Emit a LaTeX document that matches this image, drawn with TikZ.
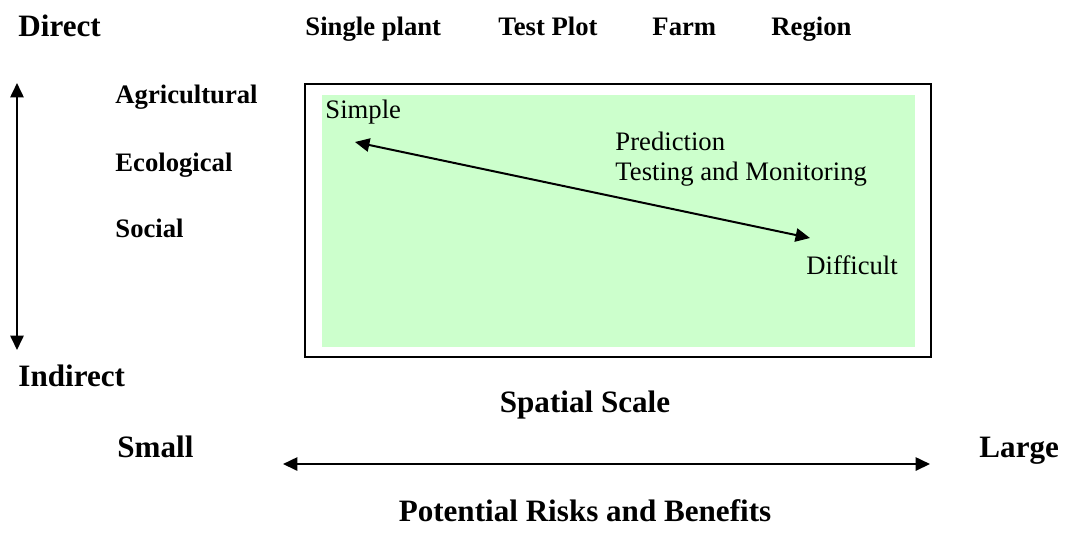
\documentclass[tikz,border=0pt]{standalone}
\usepackage{fontspec}
\setmainfont{Liberation Serif}
\usetikzlibrary{arrows.meta}

\begin{document}
\begin{tikzpicture}[x=0.45pt, y=-0.45pt,
    big/.style={anchor=base west, inner sep=0pt, font=\fontsize{14}{16}\selectfont\bfseries},
    lab/.style={anchor=base west, inner sep=0pt, font=\fontsize{12}{14}\selectfont\bfseries},
    txt/.style={anchor=base west, inner sep=0pt, font=\fontsize{12}{14}\selectfont},
    arr/.style={line width=0.9pt, {Triangle[length=6.5pt,width=6pt]}-{Triangle[length=6.5pt,width=6pt]}}]
            \useasboundingbox (0,0) rectangle (1066,537);

            % scale of the effect
            \node[big] (direct) at (18,36) {Direct};
            \node[big] (indirect) at (18,386) {Indirect};
            \coordinate (up) at (17,83);
            \coordinate (down) at (17,350);
            \draw[arr] (up) -- (down);

            \node[lab] (agri) at (115,103) {Agricultural};
            \node[lab] (eco) at (115,171) {Ecological};
            \node[lab] (soc) at (115,237) {Social};

            % scale in space
            \node[lab] (plant) at (305,35) {Single plant};
            \node[lab] (plot) at (498,35) {Test Plot};
            \node[lab] (farm) at (652,35) {Farm};
            \node[lab] (region) at (771,35) {Region};

            % the framed field
            \draw[line width=0.9pt] (305,84) rectangle (931,357);
            \fill[fill={rgb,255:red,204;green,255;blue,204}] (322,95) rectangle (915,347);

            \node[txt] (simple) at (325,118) {Simple};
            \node[txt] (pred) at (615,150) {Prediction};
            \node[txt] (test) at (615,180) {Testing and Monitoring};
            \node[txt] (diff) at (806,274) {Difficult};
            \coordinate (s) at (355,142);
            \coordinate (d) at (810,238);
            \draw[arr] (s) -- (d);

            % bottom scale
            \node[big, anchor=base] (spatial) at (585,412) {Spatial Scale};
            \node[big] (small) at (117,457) {Small};
            \node[big] (large) at (979,457) {Large};
            \coordinate (l) at (283,464);
            \coordinate (r) at (930,464);
            \draw[arr] (l) -- (r);
            \node[big, anchor=base] (risk) at (585,521) {Potential Risks and Benefits};
        \end{tikzpicture}
\end{document}
